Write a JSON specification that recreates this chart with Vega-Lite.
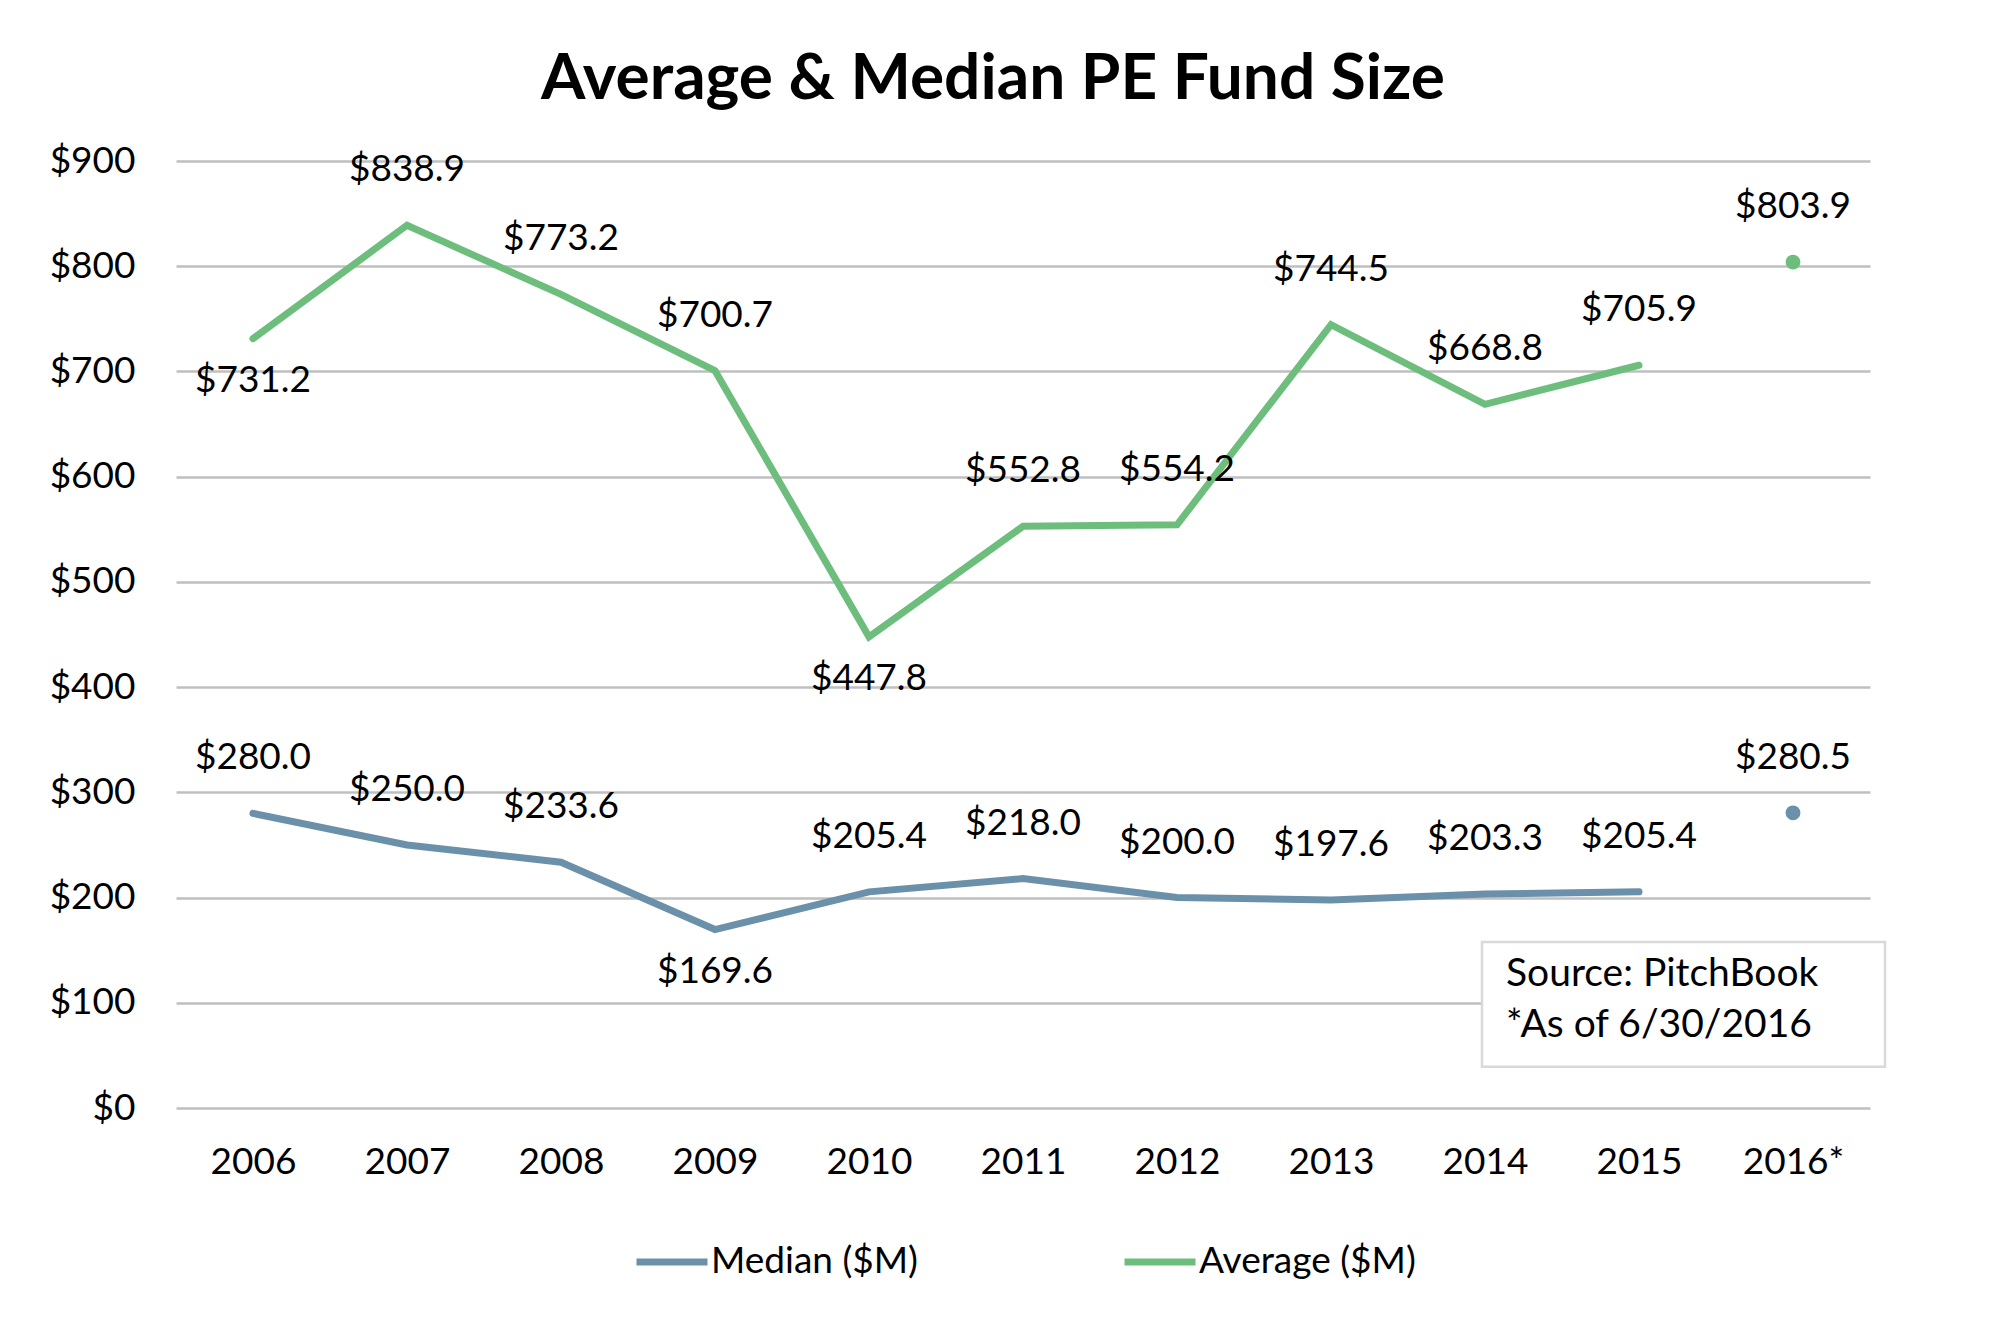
{
  "$schema": "https://vega.github.io/schema/vega-lite/v6.json",
  "width": 1694,
  "height": 947,
  "autosize": {"type": "none"},
  "padding": {"left": 176, "top": 161, "right": 146, "bottom": 230},
  "background": "white",
  "config": {"view": {"stroke": null}},
  "title": {
    "text": "Average & Median PE Fund Size",
    "font": "Lato",
    "fontSize": 64,
    "fontWeight": "bold",
    "color": "black",
    "anchor": "middle",
    "dx": -30,
    "offset": 30
  },
  "data": {
    "values": [
      {"year": "2006", "series": "Average ($M)", "value": 731.2},
      {"year": "2007", "series": "Average ($M)", "value": 838.9},
      {"year": "2008", "series": "Average ($M)", "value": 773.2},
      {"year": "2009", "series": "Average ($M)", "value": 700.7},
      {"year": "2010", "series": "Average ($M)", "value": 447.8},
      {"year": "2011", "series": "Average ($M)", "value": 552.8},
      {"year": "2012", "series": "Average ($M)", "value": 554.2},
      {"year": "2013", "series": "Average ($M)", "value": 744.5},
      {"year": "2014", "series": "Average ($M)", "value": 668.8},
      {"year": "2015", "series": "Average ($M)", "value": 705.9},
      {"year": "2016*", "series": "Average ($M)", "value": 803.9},
      {"year": "2006", "series": "Median ($M)", "value": 280.0},
      {"year": "2007", "series": "Median ($M)", "value": 250.0},
      {"year": "2008", "series": "Median ($M)", "value": 233.6},
      {"year": "2009", "series": "Median ($M)", "value": 169.6},
      {"year": "2010", "series": "Median ($M)", "value": 205.4},
      {"year": "2011", "series": "Median ($M)", "value": 218.0},
      {"year": "2012", "series": "Median ($M)", "value": 200.0},
      {"year": "2013", "series": "Median ($M)", "value": 197.6},
      {"year": "2014", "series": "Median ($M)", "value": 203.3},
      {"year": "2015", "series": "Median ($M)", "value": 205.4},
      {"year": "2016*", "series": "Median ($M)", "value": 280.5}
    ]
  },
  "encoding": {
    "x": {
      "field": "year",
      "type": "ordinal",
      "sort": null,
      "scale": {"type": "point", "padding": 0.5},
      "axis": {
        "title": null,
        "labelAngle": 0,
        "labelFont": "Lato",
        "labelFontSize": 37,
        "labelColor": "black",
        "labelPadding": 36,
        "ticks": false,
        "domain": false,
        "grid": false
      }
    },
    "y": {
      "field": "value",
      "type": "quantitative",
      "scale": {"domain": [0, 900], "nice": false},
      "axis": {
        "title": null,
        "values": [0, 100, 200, 300, 400, 500, 600, 700, 800, 900],
        "format": "$.0f",
        "labelFont": "Lato",
        "labelFontSize": 37,
        "labelColor": "black",
        "labelPadding": 41,
        "ticks": false,
        "domain": false,
        "grid": true,
        "gridColor": "#BFBFBF",
        "gridWidth": 2.5
      }
    }
  },
  "layer": [
    {
      "mark": {"type": "line", "strokeWidth": 7, "strokeCap": "round", "strokeJoin": "miter"},
      "transform": [{"filter": "datum.year != '2016*'"}],
      "encoding": {
        "color": {
          "field": "series",
          "type": "nominal",
          "scale": {"domain": ["Median ($M)", "Average ($M)"], "range": ["#6A91A9", "#6DBE7D"]},
          "legend": {
            "title": null,
            "orient": "none",
            "legendX": 457,
            "legendY": 1062,
            "direction": "horizontal",
            "symbolType": "stroke",
            "symbolSize": 5041,
            "symbolStrokeWidth": 7,
            "labelFont": "Lato",
            "labelFontSize": 37,
            "labelColor": "black",
            "labelLimit": 500,
            "labelOffset": 0,
            "columnPadding": 192
          }
        }
      }
    },
    {
      "mark": {"type": "point", "filled": true, "size": 220, "opacity": 1},
      "transform": [{"filter": "datum.year == '2016*'"}],
      "encoding": {
        "color": {"field": "series", "type": "nominal"}
      }
    },
    {
      "mark": {"type": "text", "font": "Lato", "fontSize": 37, "color": "black", "baseline": "middle", "dy": -55},
      "transform": [{"filter": "!((datum.series == 'Average ($M)' && (datum.year == '2006' || datum.year == '2010')) || (datum.series == 'Median ($M)' && datum.year == '2009'))"}],
      "encoding": {
        "text": {"field": "value", "type": "quantitative", "format": "$.1f"}
      }
    },
    {
      "mark": {"type": "text", "font": "Lato", "fontSize": 37, "color": "black", "baseline": "middle", "dy": 42},
      "transform": [{"filter": "(datum.series == 'Average ($M)' && (datum.year == '2006' || datum.year == '2010')) || (datum.series == 'Median ($M)' && datum.year == '2009')"}],
      "encoding": {
        "text": {"field": "value", "type": "quantitative", "format": "$.1f"}
      }
    },
    {
      "transform": [{"filter": "datum.year == '2016*' && datum.series == 'Median ($M)'"}],
      "mark": {"type": "rect", "fill": "white", "stroke": "#D9D9D9", "strokeWidth": 2.5, "xOffset": -3, "x2Offset": 92},
      "encoding": {
        "x": {"datum": "2014"},
        "x2": {"datum": "2016*"},
        "y": {"datum": 157.8},
        "y2": {"datum": 39.3}
      }
    },
    {
      "transform": [{"filter": "datum.year == '2016*' && datum.series == 'Median ($M)'"}],
      "mark": {"type": "text", "font": "Lato", "fontSize": 39, "color": "black", "align": "left", "baseline": "middle", "xOffset": 21},
      "encoding": {
        "x": {"datum": "2014"},
        "y": {"datum": 127},
        "text": {"value": "Source: PitchBook"}
      }
    },
    {
      "transform": [{"filter": "datum.year == '2016*' && datum.series == 'Median ($M)'"}],
      "mark": {"type": "text", "font": "Lato", "fontSize": 39, "color": "black", "align": "left", "baseline": "middle", "xOffset": 21},
      "encoding": {
        "x": {"datum": "2014"},
        "y": {"datum": 78.5},
        "text": {"value": "*As of 6/30/2016"}
      }
    }
  ]
}
